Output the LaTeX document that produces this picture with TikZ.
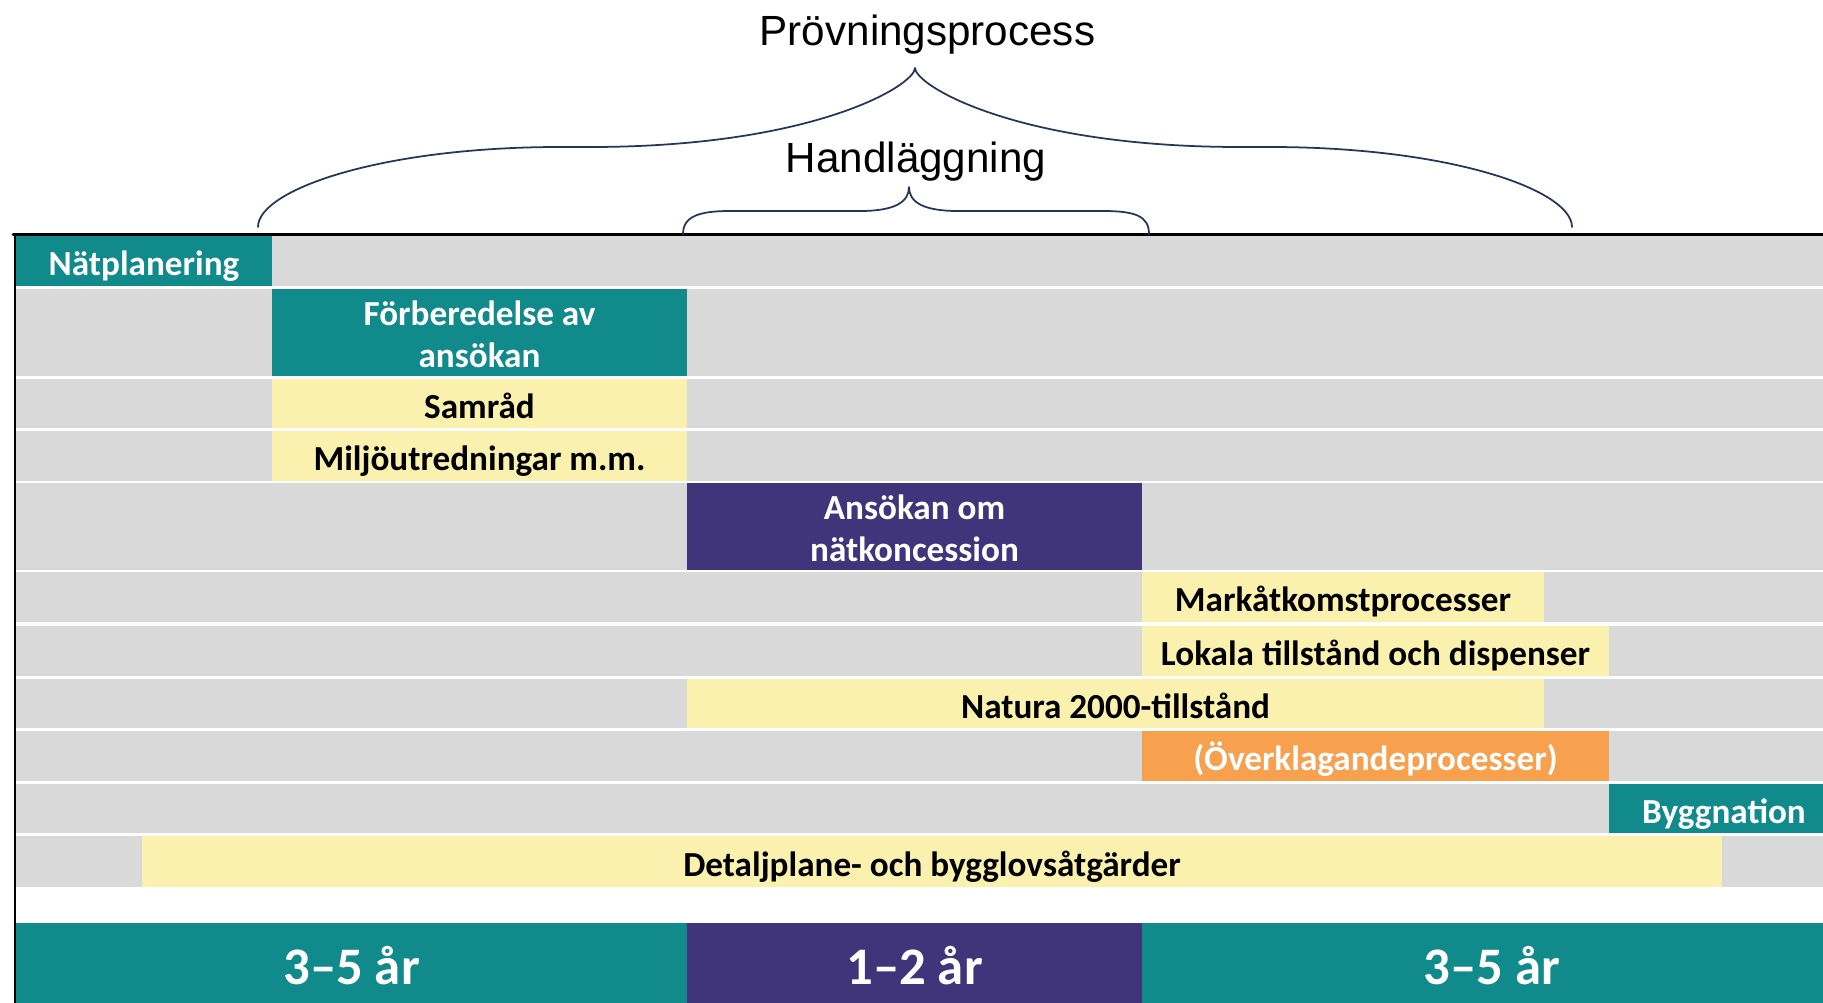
\documentclass[tikz,border=0pt]{standalone}
\usepackage{fontspec}
\setmainfont{Carlito}
\newfontfamily\titlefont{Liberation Sans}
\definecolor{planTeal}{RGB}{16,138,138}
\definecolor{permitPurple}{RGB}{64,53,122}
\definecolor{barYellow}{RGB}{250,241,174}
\definecolor{appealOrange}{RGB}{247,160,78}
\definecolor{rowGray}{RGB}{217,217,217}
\definecolor{braceBlue}{RGB}{38,54,86}
\tikzset{
  bar/.style={inner sep=0pt,outer sep=0pt,align=center,text height=8.5pt,text depth=0pt,font=\fontsize{10}{12}\selectfont\bfseries},
  twoline/.style={text height=20.1pt},
  darkbar/.style={bar,text=white},
  lightbar/.style={bar,fill=barYellow,text=black},
  period/.style={inner sep=0pt,outer sep=0pt,text=white,minimum height=0.85cm,font=\fontsize{15}{18}\selectfont\bfseries},
  titletext/.style={font=\titlefont\fontsize{12}{14}\selectfont},
  brace/.style={draw=braceBlue,line width=0.5pt}
}

\begin{document}
\begin{tikzpicture}[line cap=round,line join=round,x=0.01cm,y=-0.01cm]
    \useasboundingbox (0,0) rectangle (1823,1003);
    \clip(0,0) rectangle (1823,1003);

    % Gray rows behind the bars
    \foreach \top/\bot in {235/286, 289/376, 379/428, 431/481, 483/570, 572/622, 626/676, 679/728, 731/781, 784/833, 836/887} {
            \fill[rowGray] (16,\top) rectangle (1840,\bot);
        }

    % Bars
    \draw(144,260.5) node[darkbar, fill=planTeal, minimum width=2.56cm, minimum height=0.51cm] (natplan) {Nätplanering};
    \draw(479.5,332.5) node[darkbar, twoline, fill=planTeal, minimum width=4.15cm, minimum height=0.87cm] (forbered) {Förberedelse av\\ansökan};
    \draw(479.5,403.5) node[lightbar, minimum width=4.15cm, minimum height=0.49cm] (samrad) {Samråd};
    \draw(479.5,456) node[lightbar, minimum width=4.15cm, minimum height=0.50cm] (miljo) {Miljöutredningar m.m.};
    \draw(914.5,526.5) node[darkbar, twoline, fill=permitPurple, minimum width=4.55cm, minimum height=0.87cm] (ansokan) {Ansökan om\\nätkoncession};
    \draw(1343,597) node[lightbar, minimum width=4.02cm, minimum height=0.50cm] (markat) {Markåtkomstprocesser};
    \draw(1375.5,651) node[lightbar, minimum width=4.67cm, minimum height=0.50cm] (lokala) {Lokala tillstånd och dispenser};
    \draw(1115.5,703.5) node[lightbar, minimum width=8.57cm, minimum height=0.49cm] (natura) {Natura 2000-tillstånd};
    \draw(1375.5,756) node[darkbar, fill=appealOrange, minimum width=4.67cm, minimum height=0.50cm] (overklag) {(Överklagandeprocesser)};
    \draw(1724,808.5) node[darkbar, fill=planTeal, minimum width=2.30cm, minimum height=0.49cm] (bygg) {Byggnation};
    \draw(932,861.5) node[lightbar, minimum width=15.80cm, minimum height=0.51cm] (detalj) {Detaljplane- och bygglovsåtgärder};

    % Time periods
    \draw(351.5,965.5) node[period, fill=planTeal, minimum width=6.71cm] (period1) {3–5 år};
    \draw(914.5,965.5) node[period, fill=permitPurple, minimum width=4.55cm] (period2) {1–2 år};
    \draw(1492,965.5) node[period, fill=planTeal, minimum width=7.00cm] (period3) {3–5 år};

    % Frame lines
    \draw[black, line width=0.85pt] (13,234.5) -- (1823,234.5);
    \draw[black, line width=0.6pt] (15,234.5) -- (15,1003);

    % Titles and braces
    \draw(927.5,45) node[anchor=base, titletext] (provning) {Prövningsprocess};
    \draw(916,172) node[anchor=base, titletext] (handlagg) {Handläggning};
    \coordinate (provtip) at (915,68);
    \coordinate (handtip) at (909,187);
    \draw[brace] (258,227) .. controls (258,190) and (380,147) .. (560,147) -- (590,147)
        .. controls (815,147) and (915,85) .. (provtip)
        .. controls (915,85) and (1015,147) .. (1240,147) -- (1270,147)
        .. controls (1450,147) and (1572,190) .. (1572,227);
    \draw[brace] (683,234) .. controls (683,216) and (700,211) .. (730,211) -- (860,211)
        .. controls (895,211) and (909,202) .. (handtip)
        .. controls (909,202) and (923,211) .. (958,211) -- (1103,211)
        .. controls (1135,211) and (1149,216) .. (1149,234);
\end{tikzpicture}
\end{document}
